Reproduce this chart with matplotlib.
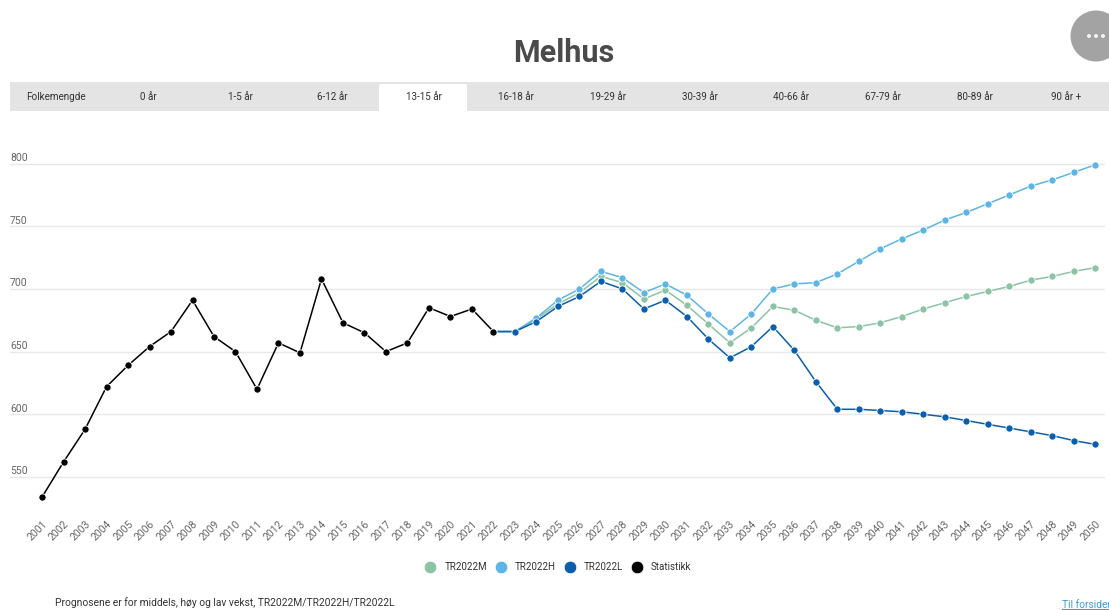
import matplotlib
matplotlib.use('Agg')
import matplotlib.pyplot as plt
from matplotlib.lines import Line2D
from matplotlib.patches import Rectangle, Circle, FancyBboxPatch

plt.rcParams['font.family'] = ['Roboto', 'DejaVu Sans']

years = list(range(2001, 2051))
stat_years = list(range(2001, 2023))
prog_years = list(range(2022, 2051))

statistikk = [534, 562, 588, 622, 639, 654, 666, 691, 662, 650, 620, 657, 649, 708, 673, 665, 650, 657,
              685, 678, 684, 666]
tr_m = [666, 666, 676, 688, 697, 710, 705, 692, 699, 687, 672, 657, 669, 686, 683, 675, 669, 670, 673,
        678, 684, 689, 694, 698, 702, 707, 710, 714, 717]
tr_h = [666, 666, 677, 691, 700, 714, 709, 697, 704, 695, 680, 666, 680, 700, 704, 705, 712, 722, 732,
        740, 747, 755, 761, 768, 775, 782, 787, 793, 799]
tr_l = [666, 666, 674, 686, 694, 706, 700, 684, 691, 678, 660, 645, 654, 670, 651, 626, 604, 604, 603,
        602, 600, 598, 595, 592, 589, 586, 583, 579, 576]

tabs = ['Folkemengde', '0 år', '1-5 år', '6-12 år', '13-15 år', '16-18 år', '19-29 år', '30-39 år',
        '40-66 år', '67-79 år', '80-89 år', '90 år +']
tab_x = [56, 148, 240, 332, 424, 516, 608, 700, 791, 883, 975, 1066]

W, H = 1109, 610
fig = plt.figure(figsize=(W / 100, H / 100), dpi=100)

# page furniture, in pixel coordinates
bg = fig.add_axes([0, 0, 1, 1])
bg.set_xlim(0, W)
bg.set_ylim(H, 0)
bg.axis('off')
bg.text(564, 53.5, 'Melhus', ha='center', va='center', fontsize=22, fontweight='bold', color='#4a4a4a')
bg.add_patch(Rectangle((10, 82), 1099, 29, color='#e4e4e4', lw=0))
bg.add_patch(FancyBboxPatch((381, 86), 84, 30, boxstyle='round,pad=2,rounding_size=2', color='white', lw=0))
bg.add_patch(Rectangle((370, 111), 110, 8, color='white', lw=0))
for name, x in zip(tabs, tab_x):
    bg.text(x, 96.5, name, ha='center', va='center', fontsize=7.1, color='#333333')
bg.add_patch(Circle((1096, 36), 25.5, color='#a3a3a3', lw=0))
for x in [1089, 1096, 1103]:
    bg.add_patch(Circle((x, 36), 2, color='#f2f2f2', lw=0))
bg.text(55, 603, 'Prognosene er for middels, høy og lav vekst, TR2022M/TR2022H/TR2022L',
        ha='left', va='center', fontsize=7.4, color='#333333')
bg.text(1062, 605, 'Til forsiden', ha='left', va='center', fontsize=7.4, color='#3a9ad9')
bg.plot([1062, 1109], [610 - 0.8, 610 - 0.8], color='#3a9ad9', lw=0.8)

# chart
ax = fig.add_axes([10 / W, 1 - 514.6 / H, 1095 / W, 401.2 / H])
ax.patch.set_alpha(0)
ax.set_xlim(1999.51, 2050.45)
ax.set_ylim(520, 840)
for s in ax.spines.values():
    s.set_visible(False)
ax.set_yticks([550, 600, 650, 700, 750, 800])
ax.tick_params(axis='y', length=0, labelleft=False)
ax.grid(axis='y', color='#e8e8e8', lw=1)
ax.set_axisbelow(True)
for v in [550, 600, 650, 700, 750, 800]:
    ax.annotate(str(v), (0, v), xycoords=ax.get_yaxis_transform(), xytext=(0, 0.5), textcoords='offset points',
                ha='left', va='bottom', fontsize=7.5, color='#666666')
ax.set_xticks(years)
ax.set_xticklabels(years, rotation=45, ha='right', rotation_mode='anchor', fontsize=7.5, color='#666666')
ax.tick_params(axis='x', length=0, pad=3)

series = [('TR2022M', prog_years, tr_m, '#8cc3a5'),
          ('TR2022H', prog_years, tr_h, '#5db5e5'),
          ('TR2022L', prog_years, tr_l, '#0a5fad'),
          ('Statistikk', stat_years, statistikk, '#000000')]
handles = []
for name, xs, ys, col in series:
    ax.plot(xs, ys, color=col, lw=1.1, marker='o', ms=5.2, mec='white', mew=0.6, clip_on=False)
    handles.append(Line2D([], [], ls='', marker='o', ms=9, color=col, mec='white', mew=0.5, label=name))

fig.legend(handles=handles, loc='center', bbox_to_anchor=(558 / W, 1 - 567 / H), ncol=4, frameon=False,
           fontsize=7, labelcolor='#333333', handlelength=1.2, handletextpad=0.85, columnspacing=0.82)

fig.savefig('out.png', dpi=100)
